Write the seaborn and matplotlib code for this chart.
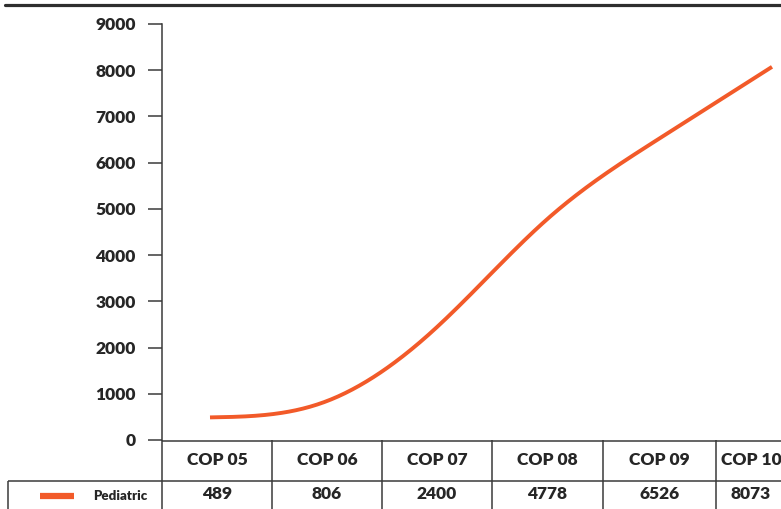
import numpy as np
import pandas as pd
import matplotlib
matplotlib.use("Agg")
import matplotlib.pyplot as plt
import seaborn as sns

# ---- data -------------------------------------------------------------
categories = ["COP 05", "COP 06", "COP 07", "COP 08", "COP 09", "COP 10"]
pediatric = [489, 806, 2400, 4778, 6526, 8073]
series_name = "Pediatric"
y_ticks = [0, 1000, 2000, 3000, 4000, 5000, 6000, 7000, 8000, 9000]

# ---- style ------------------------------------------------------------
sns.set_theme(style="white")
plt.rcParams["font.family"] = ["Lato", "DejaVu Sans"]
plt.rcParams["font.weight"] = "bold"

LINE_COLOR = "#F25A29"
INK = "#262626"
RULE = "#3a3a3a"

W, H = 781, 509


def fx(px):
    return px / W


def fy(py):
    return 1 - py / H


def natural_spline(x, y, n=400):
    """Natural cubic spline curve through the given points."""
    x = np.asarray(x, float)
    y = np.asarray(y, float)
    k = len(x)
    h = np.diff(x)
    A = np.zeros((k, k))
    b = np.zeros(k)
    A[0, 0] = A[-1, -1] = 1
    for i in range(1, k - 1):
        A[i, i - 1] = h[i - 1]
        A[i, i] = 2 * (h[i - 1] + h[i])
        A[i, i + 1] = h[i]
        b[i] = 6 * ((y[i + 1] - y[i]) / h[i] - (y[i] - y[i - 1]) / h[i - 1])
    M = np.linalg.solve(A, b)
    xs = np.linspace(x[0], x[-1], n)
    idx = np.clip(np.searchsorted(x, xs) - 1, 0, k - 2)
    x0, x1 = x[idx], x[idx + 1]
    hh = h[idx]
    ys = (M[idx] * (x1 - xs) ** 3 / (6 * hh)
          + M[idx + 1] * (xs - x0) ** 3 / (6 * hh)
          + (y[idx] / hh - M[idx] * hh / 6) * (x1 - xs)
          + (y[idx + 1] / hh - M[idx + 1] * hh / 6) * (xs - x0))
    return xs, ys


fig = plt.figure(figsize=(W / 100, H / 100), dpi=100)

# ---- line chart -------------------------------------------------------
ax = fig.add_axes([fx(162), fy(440), fx(781) - fx(162), fy(24) - fy(440)])
pos = np.arange(len(categories))
xs, ys = natural_spline(pos, pediatric)
curve = pd.DataFrame({"pos": xs, "value": ys})
sns.lineplot(data=curve, x="pos", y="value", ax=ax, color=LINE_COLOR,
             linewidth=2.8, sort=False, estimator=None)
ax.lines[-1].set_solid_capstyle("butt")

step = 112.4
ax.set_xlim(-(210 - 162) / step, 5 + (781 - 772) / step)
ax.set_ylim(0, 9000)
ax.set_yticks(y_ticks)
ax.set_yticklabels([str(t) for t in y_ticks], fontsize=12.5,
                   fontweight="heavy", color=INK)
ax.set_xticks([])
ax.set_xlabel("")
ax.set_ylabel("")
ax.tick_params(axis="y", left=True, length=10, width=1.1, color=RULE, pad=9)
for side in ("top", "right", "bottom"):
    ax.spines[side].set_visible(False)
ax.spines["left"].set_color(RULE)
ax.spines["left"].set_linewidth(1.1)

# ---- data table -------------------------------------------------------
tab = fig.add_axes([0, 0, 1, fy(440)])
tab.set_xlim(0, W)
tab.set_ylim(H, 440)
tab.axis("off")

edges = [162, 272, 382, 492, 603, 716, 786]
lw = 1.1
tab.hlines(440.5, 162, W, color=RULE, lw=lw)
tab.hlines(481, 8, W, color=RULE, lw=lw)
tab.vlines(8, 481, H, color=RULE, lw=lw)
for e in edges:
    tab.vlines(e, 440, H, color=RULE, lw=lw)

for i, (cat, val) in enumerate(zip(categories, pediatric)):
    cx = (edges[i] + edges[i + 1]) / 2
    tab.text(cx, 460, cat, ha="center", va="center", fontsize=12.5,
             fontweight="heavy", color=INK, clip_on=False)
    tab.text(cx, 494, f"{val}", ha="center", va="center", fontsize=12.5,
             fontweight="heavy", color=INK, clip_on=False)

# legend swatch and series label
tab.plot([40, 74], [496, 496], color=LINE_COLOR, lw=4.5,
         solid_capstyle="butt")
tab.text(93, 496, series_name, ha="left", va="center", fontsize=9.5,
         fontweight="heavy", color=INK)

# ---- top rule ---------------------------------------------------------
fig.add_artist(plt.Line2D([fx(5), 1], [fy(4.5), fy(4.5)], color="#2e2e2e",
                          lw=2.3, transform=fig.transFigure))

fig.savefig("out.png", dpi=100)
